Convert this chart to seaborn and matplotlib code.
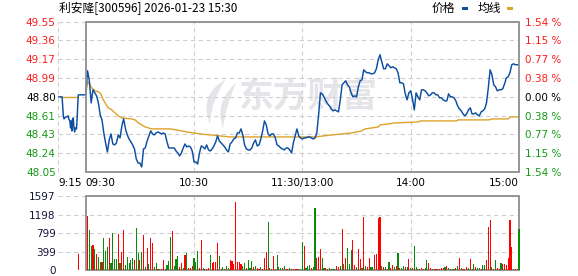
import numpy as np
import pandas as pd
import matplotlib
matplotlib.use("Agg")
import matplotlib.pyplot as plt
import seaborn as sns
from matplotlib.patches import Rectangle, PathPatch
from matplotlib.path import Path

# ---------------- data ----------------
title = "利安隆[300596] 2026-01-23 15:30"
legend_price = "价格"
legend_avg = "均线"
watermark = "东方财富"

prev_close = 48.80
price_min, price_max = 48.05, 49.55
price_tick_labels = ["48.05", "48.24", "48.43", "48.61", "48.80", "48.99", "49.17", "49.36", "49.55"]
pct_tick_labels = ["1.54 %", "1.15 %", "0.77 %", "0.38 %", "0.00 %", "0.38 %", "0.77 %", "1.15 %", "1.54 %"]
vol_max = 1597
vol_tick_labels = ["0", "399", "799", "1198", "1597"]

# minutes relative to 09:30 (trading minutes, lunch removed)
time_ticks = [-15.2, 0, 60, 120, 180, 240]
time_labels = ["9:15", "09:30", "10:30", "11:30/13:00", "14:00", "15:00"]
grid_times = [-15.2, 60, 120, 180]
session_start, session_end = 0, 240

# call auction (9:15-9:30)
pre_minutes = [-15, -13.1, -12.75, -12.4, -12, -11.6, -11.1, -10.5, -9.75, -9.4, -8.8, -8.4,
               -8.1, -7.7, -7.3, -6.9, -6.6, -6.2, -5.8, -5.4, -5.1, -4.7, -4.3, -4.1]
pre_prices = [48.80, 48.80, 48.71, 48.61, 48.58, 48.59, 48.60, 48.60, 48.61, 48.58, 48.56, 48.49,
              48.56, 48.46, 48.58, 48.59, 48.51, 48.45, 48.49, 48.48, 48.48, 48.61, 48.77, 48.82]
pre_avg_minutes = [-13.1, -4.3]
pre_avg_prices = [48.80, 48.80]
pre_vol_minute = [-4.1]
pre_volume = [347]
pre_dir = "R"

# price, one value per minute, 09:30 .. 15:00
prices = [
    48.82, 49.06, 48.96, 48.74, 48.87, 48.84, 48.81, 48.74, 48.62, 48.57,
    48.44, 48.34, 48.25, 48.37, 48.43, 48.33, 48.32, 48.34, 48.42, 48.39,
    48.51, 48.58, 48.48, 48.42, 48.38, 48.35, 48.32, 48.28, 48.18, 48.14,
    48.14, 48.10, 48.28, 48.29, 48.36, 48.41, 48.46, 48.43, 48.42, 48.44,
    48.45, 48.44, 48.43, 48.44, 48.43, 48.35, 48.29, 48.29, 48.29, 48.29,
    48.26, 48.24, 48.21, 48.24, 48.29, 48.33, 48.30, 48.31, 48.30, 48.26,
    48.15, 48.15, 48.13, 48.24, 48.31, 48.30, 48.28, 48.32, 48.27, 48.26,
    48.28, 48.31, 48.35, 48.41, 48.36, 48.34, 48.32, 48.30, 48.27, 48.25,
    48.33, 48.35, 48.38, 48.39, 48.44, 48.44, 48.48, 48.42, 48.32, 48.28,
    48.27, 48.27, 48.29, 48.34, 48.37, 48.31, 48.32, 48.38, 48.46, 48.56,
    48.52, 48.43, 48.41, 48.43, 48.43, 48.39, 48.32, 48.31, 48.29, 48.28,
    48.27, 48.29, 48.29, 48.27, 48.24, 48.34, 48.41, 48.48, 48.41, 48.39,
    48.38, 48.39, 48.39, 48.40, 48.40, 48.39, 48.38, 48.39, 48.44, 48.62,
    48.84, 48.83, 48.80, 48.76, 48.73, 48.71, 48.68, 48.66, 48.67, 48.66,
    48.65, 48.77, 48.92, 48.94, 48.96, 48.92, 48.90, 48.84, 48.80, 48.81,
    48.80, 48.90, 48.96, 48.97, 49.07, 49.05, 49.04, 49.04, 49.03, 49.03,
    49.04, 49.08, 49.17, 49.22, 49.15, 49.08, 49.08, 49.13, 49.11, 49.09,
    49.10, 49.09, 49.08, 49.04, 48.94, 48.94, 48.93, 48.83, 48.77, 48.84,
    48.86, 48.78, 48.67, 48.84, 48.80, 48.77, 48.87, 48.87, 48.86, 48.84,
    48.81, 48.82, 48.84, 48.84, 48.82, 48.82, 48.79, 48.79, 48.77, 48.76,
    48.76, 48.83, 48.80, 48.80, 48.79, 48.76, 48.71, 48.68, 48.66, 48.63,
    48.61, 48.63, 48.67, 48.69, 48.63, 48.63, 48.64, 48.62, 48.61, 48.65,
    48.66, 48.68, 48.74, 48.89, 49.07, 49.02, 48.92, 48.90, 48.86, 48.87,
    48.87, 48.88, 48.93, 48.99, 49.00, 49.04, 49.12, 49.13, 49.12, 49.12,
    49.12,
]

# average price line (read at its break points)
avg_minutes = [0, 1, 2.4, 3.3, 5.2, 7, 7.9, 8.8, 9.8, 10.7,
               12.5, 14.4, 16.2, 18.1, 19.9, 25.4, 27.3, 29.2, 31, 32.9,
               34.7, 36.5, 43.9, 46.7, 50.4, 55.9, 59.6, 63.3, 68.9, 74.4,
               80, 85.5, 91, 96.6, 99.3, 127, 131.7, 136.3, 141.8, 147.4,
               152.9, 154.8, 162.1, 163, 167.7, 171.3, 172.3, 184.3, 185.2, 205.5,
               206.4, 223, 225.8, 234.1, 235, 240]
avg_prices = [48.82, 48.95, 48.92, 48.89, 48.86, 48.85, 48.84, 48.81, 48.77, 48.74,
              48.69, 48.67, 48.64, 48.61, 48.59, 48.58, 48.57, 48.54, 48.52, 48.50,
              48.49, 48.48, 48.48, 48.48, 48.47, 48.45, 48.44, 48.43, 48.42, 48.41,
              48.40, 48.40, 48.40, 48.40, 48.40, 48.40, 48.41, 48.42, 48.43, 48.44,
              48.46, 48.48, 48.50, 48.52, 48.53, 48.54, 48.54, 48.55, 48.56, 48.56,
              48.57, 48.57, 48.58, 48.58, 48.60, 48.60]

# volume per minute, 09:31 .. 15:00
volumes = [
    1171, 867, 520, 542, 455, 347, 282, 173, 173, 694,
    412, 499, 694, 145, 809, 238, 238, 780, 152, 390,
    867, 108, 289, 145, 217, 260, 210, 910, 368, 224,
    390, 759, 65, 477, 137, 694, 593, 58, 159, 22,
    22, 22, 210, 22, 101, 202, 715, 845, 94, 231,
    303, 58, 152, 51, 325, 368, 43, 43, 94, 260,
    181, 412, 43, 650, 51, 22, 22, 43, 325, 145,
    173, 173, 585, 303, 29, 72, 22, 94, 43, 217,
    202, 130, 1481, 173, 173, 130, 94, 159, 51, 210,
    36, 188, 72, 94, 43, 29, 65, 22, 267, 390,
    1040, 43, 29, 303, 29, 325, 72, 43, 51, 79,
    29, 29, 51, 29, 29, 22, 22, 22, 22, 607,
    520, 43, 94, 116, 43, 65, 1344, 260, 289, 462,
    260, 43, 43, 22, 36, 22, 22, 22, 87, 65,
    94, 889, 123, 267, 477, 123, 426, 658, 116, 65,
    462, 238, 36, 1149, 87, 65, 260, 58, 65, 318,
    347, 1127, 1156, 79, 58, 65, 29, 173, 43, 116,
    65, 87, 368, 51, 43, 94, 58, 65, 238, 43,
    43, 527, 65, 29, 29, 43, 22, 36, 217, 152,
    43, 22, 22, 22, 22, 22, 36, 36, 65, 94,
    36, 22, 22, 22, 36, 79, 260, 43, 22, 22,
    72, 36, 246, 22, 123, 65, 43, 36, 22, 101,
    108, 217, 925, 1084, 65, 22, 217, 36, 22, 152,
    123, 123, 108, 260, 1091, 506, 22, 22, 22, 896,
]
# R = up (red), G = down (green)
vol_dirs = ("RGGRGRGGRG" "GGRGGGGRGR" "RGGGGGRGGR" "GRGRGRRGGR" "GRRRGGGRGG"
            "GRRGRGRRRG" "GGRRGRRRGR" "RRRGRGRGGR" "RRRRRRGGRG" "GGRGRRGRRR"
            "GRGRRGGGRG" "RRGRRRRGGG" "RGGGRGGRRR" "GGRRGRGGRR" "GRGRGGGRRG"
            "RRGRGRRGGR" "RRRGRGRGRR" "GRGRGGRGRG" "RGGRGRRGGR" "RGRRGRRRGR"
            "GRGGRGRGRG" "RGRGGRGGRG" "GRRRGRGRRG" "RRRRRRGRRG")

# ---------------- style ----------------
sns.set_style("white")
plt.rcParams["font.family"] = ["DejaVu Sans", "Noto Sans CJK SC"]
CJK = ["Noto Sans CJK SC", "DejaVu Sans"]

BLUE = "#0b4ea2"
GOLD = "#dca32a"
RED = "#ff1a1a"
GREEN = "#139a13"
BAR_RED = "#ff0000"
BAR_GREEN = "#0a8a0a"
GRID = "#cfcfcf"
FRAME = "#8e8e8e"
W, H = 578, 276


def fx(px):
    return px / W


def fy(py):
    return 1 - py / H


fig = plt.figure(figsize=(W / 100, H / 100), dpi=100)
left_px, right_px = 58.3, 519.0
ax = fig.add_axes([fx(left_px), fy(172.0), (right_px - left_px) / W, (172.0 - 21.7) / H])
axv = fig.add_axes([fx(left_px), fy(270.0), (right_px - left_px) / W, (270.0 - 196.3) / H])

xmin = time_ticks[0]

# ---------------- price panel ----------------
price_pos = np.linspace(price_min, price_max, len(price_tick_labels))
for yv in price_pos:
    ax.axhline(yv, color=GRID, lw=0.8, ls=(0, (4, 3)), zorder=1)
for xv in grid_times:
    ax.axvline(xv, color=GRID, lw=0.8, ls=(0, (4, 3)), zorder=1, clip_on=False)

# watermark
ax.text(fx(308), fy(96.5), watermark, transform=fig.transFigure, fontsize=25,
        fontweight="bold", family=CJK, color="#e4e4e9", ha="center", va="center", zorder=0.5)


def crescent(p0, c_out, p1, c_in):
    pts = [(fx(p0[0]), fy(p0[1])), (fx(c_out[0]), fy(c_out[1])), (fx(p1[0]), fy(p1[1])),
           (fx(c_in[0]), fy(c_in[1])), (fx(p0[0]), fy(p0[1])), (0, 0)]
    codes = [Path.MOVETO, Path.CURVE3, Path.CURVE3, Path.CURVE3, Path.CURVE3, Path.CLOSEPOLY]
    return PathPatch(Path(pts, codes), transform=fig.transFigure, facecolor="#e4e4e9",
                     edgecolor="none", zorder=0.5)


ax.add_patch(crescent((226, 79), (198, 95), (210, 124), (211, 100)))
ax.add_patch(crescent((236, 83), (214, 102), (223, 128), (226, 105)))

line_minutes = pre_minutes + list(range(session_start, session_end + 1))
line_prices = pre_prices + prices
sns.lineplot(x=line_minutes, y=line_prices, sort=False, estimator=None, color=BLUE,
             lw=1.05, ax=ax, zorder=4)
sns.lineplot(x=avg_minutes, y=avg_prices, sort=False, estimator=None, color=GOLD,
             lw=1.0, ax=ax, zorder=3)
sns.lineplot(x=pre_avg_minutes, y=pre_avg_prices, sort=False, estimator=None, color=GOLD,
             lw=1.0, ax=ax, zorder=3)

ax.add_patch(Rectangle((session_start, price_min), session_end - session_start,
                       price_max - price_min, fill=False, edgecolor=FRAME, lw=1.3,
                       zorder=5, clip_on=False))
ax.set_xlim(xmin, session_end)
ax.set_ylim(price_min, price_max)
ax.set_xlabel("")
ax.set_ylabel("")
for s in ax.spines.values():
    s.set_visible(False)

ax.set_yticks(price_pos, price_tick_labels)
ax.tick_params(axis="y", length=0, pad=1.8, labelsize=7.5)
mid = len(price_tick_labels) // 2
for i, lab in enumerate(ax.get_yticklabels()):
    lab.set_color(GREEN if i < mid else ("black" if i == mid else RED))

ax.set_xticks(time_ticks, time_labels)
ax.tick_params(axis="x", length=0, pad=4, labelsize=7.5, labelcolor="black")
xl = ax.get_xticklabels()
xl[0].set_ha("left")
xl[1].set_ha("left")
xl[-1].set_ha("right")

axr = ax.twinx()
axr.set_ylim(price_min, price_max)
axr.set_yticks(price_pos, pct_tick_labels)
axr.tick_params(axis="y", length=0, pad=4.3, labelsize=7.5)
for i, lab in enumerate(axr.get_yticklabels()):
    lab.set_color(GREEN if i < mid else ("black" if i == mid else RED))
for s in axr.spines.values():
    s.set_visible(False)

# ---------------- volume panel ----------------
dfv = pd.DataFrame({
    "minute": pre_vol_minute + list(range(session_start + 1, session_end + 1)),
    "volume": pre_volume + volumes,
    "dir": list(pre_dir) + list(vol_dirs),
})
vol_pos = np.linspace(0, vol_max, len(vol_tick_labels))
for yv in vol_pos:
    axv.axhline(yv, color=GRID, lw=0.8, ls=(0, (4, 3)), zorder=0.8)
for xv in grid_times[1:]:
    axv.axvline(xv, color=GRID, lw=0.8, ls=(0, (4, 3)), zorder=0.8)

axv.add_patch(Rectangle((session_start, 0), session_end - session_start, vol_max,
                        fill=False, edgecolor=FRAME, lw=1.3, zorder=5, clip_on=False))
sns.barplot(data=dfv, x="minute", y="volume", hue="dir",
            palette={"R": BAR_RED, "G": BAR_GREEN}, native_scale=True, dodge=False,
            width=0.62, errorbar=None, legend=False, linewidth=0, saturation=1, ax=axv)
for p in axv.patches:
    if p.get_fill() and p.get_width() < 5:
        p.set_antialiased(False)
        p.set_clip_on(False)
        p.set_zorder(6)
axv.set_xlim(xmin, session_end)
axv.set_ylim(0, vol_max)
axv.set_xlabel("")
axv.set_ylabel("")
for s in axv.spines.values():
    s.set_visible(False)
axv.set_xticks([])
axv.set_yticks(vol_pos, vol_tick_labels)
axv.tick_params(axis="y", length=0, pad=1.8, labelsize=7.5, labelcolor="#14143a")

# ---------------- title & legend ----------------
fig.text(fx(59), fy(8.3), title, family=CJK, fontsize=8.5, ha="left", va="center",
         color="black")
fig.text(fx(431.5), fy(8.3), legend_price, family=CJK, fontsize=8.5, ha="left",
         va="center", color="black")
fig.text(fx(477.5), fy(8.3), legend_avg, family=CJK, fontsize=8.5, ha="left",
         va="center", color="black")
fig.add_artist(Rectangle((fx(462), fy(9.6)), 6 / W, 3 / H, transform=fig.transFigure,
                         facecolor=BLUE, edgecolor="none"))
fig.add_artist(Rectangle((fx(507), fy(9.6)), 6 / W, 3 / H, transform=fig.transFigure,
                         facecolor=GOLD, edgecolor="none"))

fig.savefig("out.png", dpi=100, facecolor="white")
